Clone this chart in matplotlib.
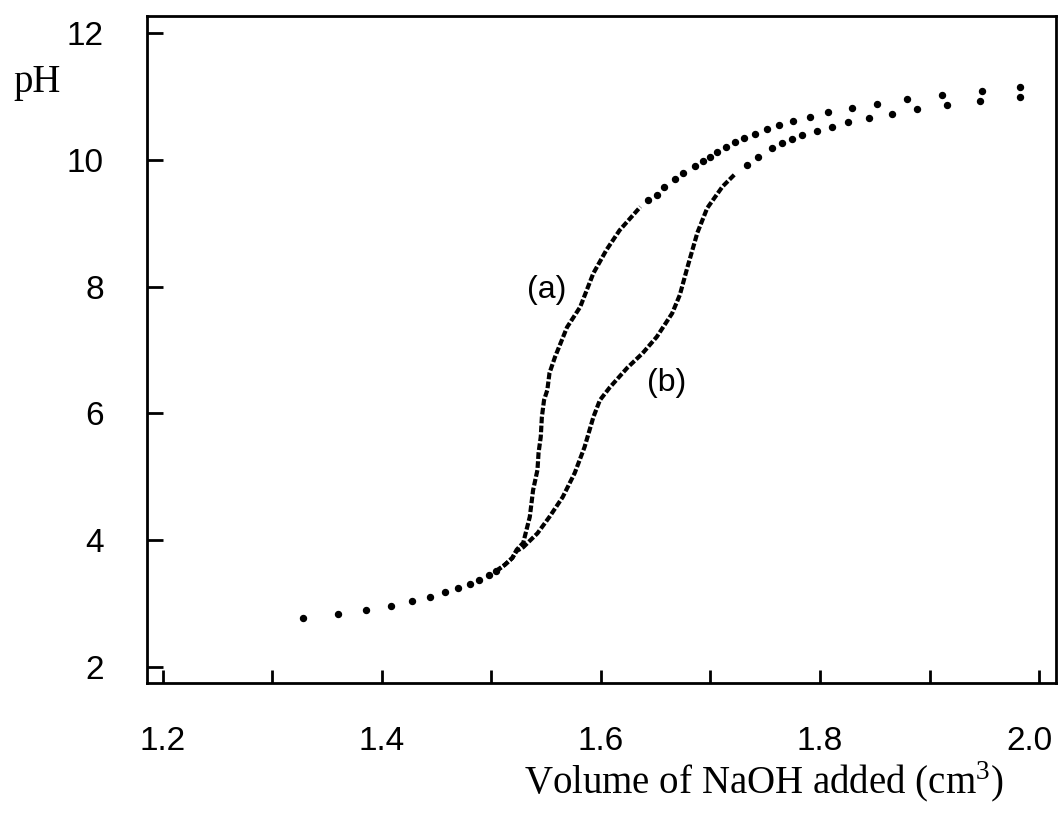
import matplotlib.pyplot as plt
from matplotlib.transforms import ScaledTranslation

plt.rcParams['mathtext.fontset'] = 'custom'
plt.rcParams['mathtext.rm'] = 'Liberation Serif'

# shared start of both titrations (individual readings)
start_v = [1.328, 1.360, 1.385, 1.408, 1.427, 1.444, 1.458, 1.469, 1.480, 1.489, 1.498, 1.504]
start_ph = [2.77, 2.84, 2.90, 2.96, 3.04, 3.10, 3.18, 3.25, 3.31, 3.37, 3.45, 3.51]

# curve (a): closely spaced readings through the steep part
a_dense_v = [1.504, 1.512, 1.519, 1.523, 1.529, 1.535, 1.538, 1.542, 1.543, 1.545, 1.546,
             1.548, 1.551, 1.553, 1.558, 1.569, 1.581, 1.593, 1.605, 1.617, 1.636]
a_dense_ph = [3.51, 3.61, 3.72, 3.85, 3.96, 4.37, 4.79, 5.11, 5.38, 5.63, 5.94,
              6.21, 6.37, 6.64, 6.89, 7.36, 7.68, 8.21, 8.58, 8.89, 9.26]
# curve (a): separate readings at the top
a_v = [1.643, 1.651, 1.658, 1.668, 1.675, 1.686, 1.693, 1.700, 1.706, 1.714, 1.722, 1.731,
       1.741, 1.752, 1.763, 1.775, 1.791, 1.807, 1.829, 1.852, 1.879, 1.911, 1.948, 1.983]
a_ph = [9.37, 9.45, 9.58, 9.70, 9.80, 9.91, 9.99, 10.05, 10.12, 10.20, 10.28, 10.34,
        10.41, 10.49, 10.55, 10.61, 10.68, 10.76, 10.82, 10.88, 10.96, 11.03, 11.09, 11.15]

# curve (b)
b_dense_v = [1.504, 1.512, 1.519, 1.523, 1.529, 1.542, 1.553, 1.565, 1.576, 1.585, 1.593,
             1.599, 1.608, 1.624, 1.638, 1.651, 1.665, 1.672, 1.679, 1.688, 1.697, 1.711, 1.722]
b_dense_ph = [3.51, 3.61, 3.72, 3.83, 3.89, 4.11, 4.37, 4.68, 5.06, 5.47, 5.94,
              6.21, 6.41, 6.72, 6.95, 7.21, 7.58, 7.87, 8.31, 8.85, 9.24, 9.58, 9.77]
b_v = [1.733, 1.743, 1.756, 1.765, 1.774, 1.784, 1.797, 1.811, 1.826, 1.845, 1.866,
       1.889, 1.916, 1.946, 1.983]
b_ph = [9.92, 10.04, 10.19, 10.27, 10.33, 10.39, 10.46, 10.52, 10.60, 10.66, 10.72,
        10.80, 10.86, 10.93, 10.99]

x_ticks = [1.2, 1.3, 1.4, 1.5, 1.6, 1.7, 1.8, 1.9, 2.0]
x_labels = ['1.2', '', '1.4', '', '1.6', '', '1.8', '', '2.0']
y_ticks = [2, 4, 6, 8, 10, 12]

fig = plt.figure(figsize=(10.58, 8.13), dpi=100)
ax = fig.add_axes([0.1389, 0.1599, 0.8592, 0.8204])

dot = dict(linestyle='none', marker='o', markersize=4.3, color='black')
dash = dict(linestyle=(0, (1.6, 0.55)), linewidth=3.0, color='black')

ax.plot(start_v, start_ph, **dot)
ax.plot(a_dense_v, a_dense_ph, **dash)
ax.plot(a_v, a_ph, **dot)
ax.plot(b_dense_v, b_dense_ph, **dash)
ax.plot(b_v, b_ph, **dot)

sans = 'Liberation Sans'
ax.text(1.550, 7.95, '(a)', fontsize=23, family=sans, ha='center', va='center')
ax.text(1.660, 6.48, '(b)', fontsize=23, family=sans, ha='center', va='center')

ax.set_xlim(1.1854, 2.0155)
ax.set_ylim(1.748, 12.27)
ax.set_xticks(x_ticks)
ax.set_xticklabels(x_labels)
ax.set_yticks(y_ticks)
ax.tick_params(direction='in', width=2, colors='black', labelsize=24)
ax.tick_params(axis='x', length=9.5, pad=31)
ax.tick_params(axis='y', length=11.5, pad=31)
for lab in ax.get_xticklabels() + ax.get_yticklabels():
    lab.set_family(sans)
# keep the last x label inside the figure
last = ax.get_xticklabels()[-1]
last.set_transform(last.get_transform() + ScaledTranslation(-7 / 72, 0, fig.dpi_scale_trans))
for s in ax.spines.values():
    s.set_linewidth(2.0)

fig.text(0.035, 0.899, 'pH', fontsize=28, family='Liberation Serif', ha='center', va='center')
fig.text(0.722, 0.037, 'Volume of NaOH added (cm$^{3}$)', fontsize=28,
         family='Liberation Serif', ha='center', va='center')

fig.savefig('out.png', dpi=100)
